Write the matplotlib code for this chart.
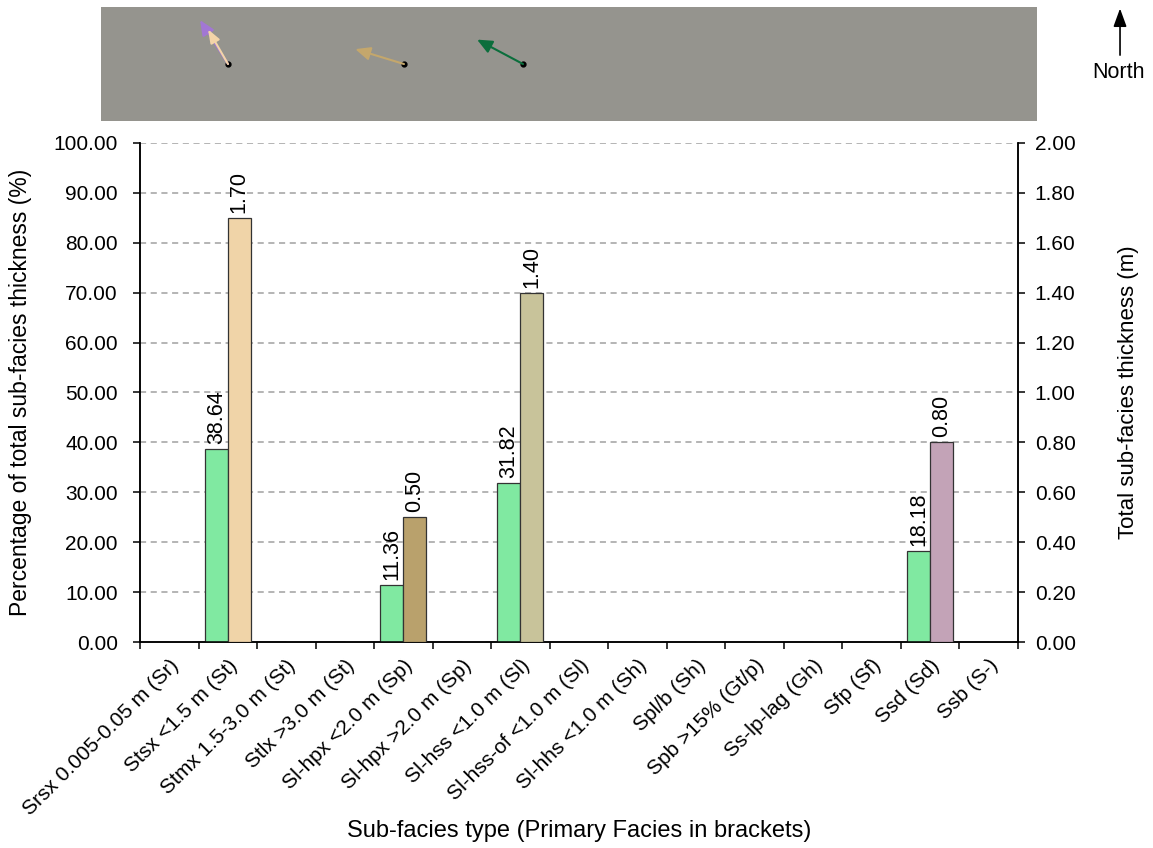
import numpy as np
import matplotlib.pyplot as plt

plt.rcParams['font.family'] = ['Liberation Sans', 'DejaVu Sans']

# sub-facies categories (primary facies in brackets)
categories = ['Srsx 0.005-0.05 m (Sr)', 'Stsx <1.5 m (St)', 'Stmx 1.5-3.0 m (St)',
              'Stlx >3.0 m (St)', 'Sl-hpx <2.0 m (Sp)', 'Sl-hpx >2.0 m (Sp)',
              'Sl-hss <1.0 m (Sl)', 'Sl-hss-of <1.0 m (Sl)', 'Sl-hhs <1.0 m (Sh)',
              'Spl/b (Sh)', 'Spb >15% (Gt/p)', 'Ss-lp-lag (Gh)', 'Sfp (Sf)',
              'Ssd (Sd)', 'Ssb (S-)']
pct = [0, 38.64, 0, 0, 11.36, 0, 31.82, 0, 0, 0, 0, 0, 0, 18.18, 0]
thick = [0, 1.70, 0, 0, 0.50, 0, 1.40, 0, 0, 0, 0, 0, 0, 0.80, 0]
thick_colors = ['#f0d4a8', '#f0d4a8', '#f0d4a8', '#f0d4a8', '#b9a16c', '#b9a16c',
                '#c8c39a', '#c8c39a', '#c8c39a', '#c8c39a', '#c8c39a', '#c8c39a',
                '#c8c39a', '#c3a3b7', '#c3a3b7']

# palaeocurrent arrows in the top panel: origin x, azimuth (deg), length, colour
arrow_x = [127, 127, 303, 422]
arrow_az = [327.5, 330, 287, 298]
arrow_len = [52, 40, 51, 52]
arrow_col = ['#a277d4', '#f3d4a8', '#c4a76c', '#0b6e3c']

fig = plt.figure(figsize=(11.53, 8.48), dpi=100)

# top panel
axt = fig.add_axes([0.0876, 0.8573, 0.8118, 0.1344])
axt.set_facecolor('#95948e')
axt.set_xlim(0, 936)
axt.set_ylim(0, 114)
axt.set_xticks([])
axt.set_yticks([])
for s in axt.spines.values():
    s.set_visible(False)
y0 = 57
heads = ['-|>,head_length=0.9,head_width=0.4', '-|>,head_length=0.8,head_width=0.3',
         '-|>,head_length=0.9,head_width=0.4', '-|>,head_length=0.9,head_width=0.4']
for x, az, L, c, hs in zip(arrow_x, arrow_az, arrow_len, arrow_col, heads):
    a = np.radians(az)
    axt.annotate('', xy=(x + L*np.sin(a), y0 + L*np.cos(a)), xytext=(x, y0),
                 arrowprops=dict(arrowstyle=hs, color=c, lw=1.5, shrinkA=0, shrinkB=0))
axt.plot(sorted(set(arrow_x)), [y0]*len(set(arrow_x)), 'o', color='black', ms=3.5)

# north arrow
fig.add_artist(plt.Annotation('', xy=(0.9714, 0.990), xytext=(0.9714, 0.935),
                              xycoords='figure fraction', textcoords='figure fraction',
                              arrowprops=dict(arrowstyle='-|>,head_length=1.1,head_width=0.4',
                                              color='black', lw=1.2, shrinkA=0, shrinkB=0)))
fig.text(0.9705, 0.914, 'North', ha='center', va='center', fontsize=15.5)

# main chart
ax = fig.add_axes([0.1214, 0.2429, 0.7615, 0.5885])
ax2 = ax.twinx()
x = np.arange(len(categories))
w = 0.393
ax.bar(x - w/2, pct, w, color='#80e9a1', edgecolor='#333333', lw=0.9, zorder=3)
ax2.bar(x + w/2, thick, w, color=thick_colors, edgecolor='#333333', lw=0.9, zorder=3)

for xi, v in zip(x, pct):
    if v > 0:
        ax.text(xi - w/2, v + 1, f'{v:.2f}', rotation=90, ha='center', va='bottom', fontsize=15.5)
for xi, v in zip(x, thick):
    if v > 0:
        ax2.text(xi + w/2, v + 0.02, f'{v:.2f}', rotation=90, ha='center', va='bottom', fontsize=15.5)

ax.set_xlim(-0.5, len(categories) - 0.5)
ax.set_ylim(0, 100)
ax2.set_ylim(0, 2)
ax.set_yticks(np.arange(0, 101, 10))
ax.set_yticklabels([f'{t:.2f}' for t in np.arange(0, 101, 10)])
ax2.set_yticks(np.arange(0, 2.01, 0.2))
ax2.set_yticklabels([f'{t:.2f}' for t in np.arange(0, 2.01, 0.2)])
for t in np.arange(10, 101, 10):
    ax.axhline(t, color='#a0a0a0', lw=1.1, ls=(0, (4, 3)), zorder=1)

ax.set_xticks(np.arange(-0.5, len(categories), 1))
ax.set_xticklabels([])
ax.set_xticks(x, minor=True)
ax.set_xticklabels(categories, minor=True, rotation=45, ha='right', va='top',
                   rotation_mode='anchor', fontsize=15)
ax.tick_params(axis='x', which='minor', length=0, pad=10)
ax.tick_params(axis='x', which='major', length=5, width=1.1, direction='out')
ax.tick_params(axis='y', length=5, width=1.1, labelsize=15, pad=11)
ax2.tick_params(axis='y', length=5, width=1.1, labelsize=15, pad=7)

for a in (ax, ax2):
    a.spines['top'].set_visible(False)
    for s in ('left', 'right', 'bottom'):
        a.spines[s].set_linewidth(1.1)

ax.set_ylabel('Percentage of total sub-facies thickness (%)', fontsize=16.5)
ax.yaxis.set_label_coords(-0.123, 0.5)
ax2.set_ylabel('Total sub-facies thickness (m)', fontsize=16)
ax2.yaxis.set_label_coords(1.114, 0.5)
ax.set_xlabel('Sub-facies type (Primary Facies in brackets)', fontsize=17)
ax.xaxis.set_label_coords(0.5, -0.357)

fig.savefig('out.png', dpi=100)
